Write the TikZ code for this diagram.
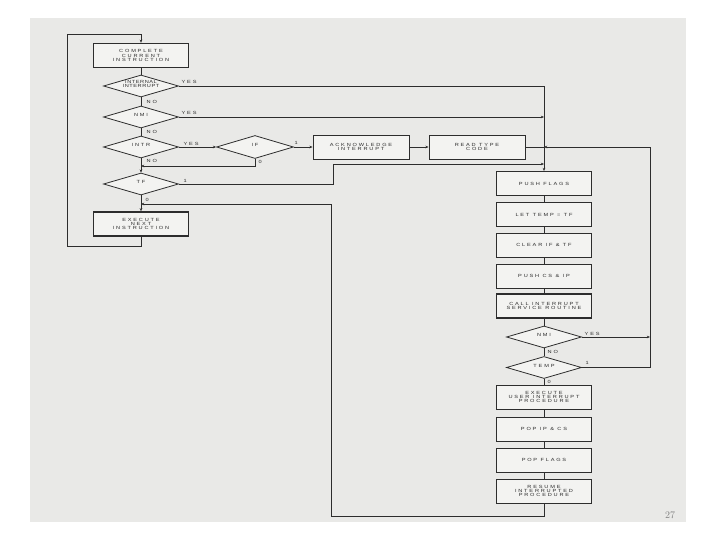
\documentclass[tikz,border=0pt]{standalone}
\usepackage{fontspec}
\newfontfamily\lab[LetterSpace=40,FakeStretch=1.25]{Liberation Sans}
\usetikzlibrary{shapes.geometric,arrows.meta}
\definecolor{scan}{RGB}{233,233,231}
\definecolor{ink}{RGB}{45,45,45}
\definecolor{boxfill}{RGB}{243,243,241}
\newcommand{\dtext}[1]{\smash{\makebox[0pt]{\begin{tabular}{@{}c@{}}#1\end{tabular}}}}
\begin{document}
\begin{tikzpicture}[x=1pt,y=-1pt,
 every node/.style={font=\lab\fontsize{4.5}{4.4}\selectfont, text=ink, align=center},
 pbox/.style={draw=ink, line width=0.9pt, fill=boxfill, minimum width=95pt, minimum height=24pt, inner sep=0pt},
 thickbox/.style={pbox, line width=1.4pt},
 dec/.style={draw=ink, line width=0.8pt, fill=boxfill, diamond, minimum width=75pt, minimum height=22pt, inner sep=0pt},
 flow/.style={draw=ink, line width=0.7pt},
 arr/.style={flow, -{Stealth[length=3.2pt,width=2.6pt]}},
 lbl/.style={font=\lab\fontsize{4.5}{4.5}\selectfont, inner sep=0.5pt, anchor=west}
]
\useasboundingbox (0,0) rectangle (720,540);
\fill[scan] (30,18) rectangle (686,522);

% left column
\node[thickbox] (cci) at (141,55.5) {COMPLETE\\CURRENT\\INSTRUCTION};
\node[dec] (ii) at (141,86) {\dtext{\addfontfeature{LetterSpace=12}INTERNAL\\\addfontfeature{LetterSpace=12}INTERRUPT}};
\node[dec] (nmi) at (141,117) {\dtext{NMI}};
\node[dec] (intr) at (141,147) {\dtext{INTR}};
\node[dec] (tf) at (141,184) {\dtext{TF}};
\node[thickbox] (exe) at (141,224) {EXECUTE\\NEXT\\INSTRUCTION};

% middle row
\node[dec, minimum width=77pt, minimum height=23pt] (if) at (255,147) {\dtext{IF}};
\node[pbox, minimum width=96pt] (ack) at (361,147) {ACKNOWLEDGE\\INTERRUPT};
\node[pbox, minimum width=96pt] (rtc) at (477,147) {READ TYPE\\CODE};

% right column
\node[pbox] (pf) at (544,183.5) {PUSH FLAGS};
\node[pbox] (lt) at (544,214.5) {LET TEMP = TF};
\node[pbox] (clr) at (544,245) {CLEAR IF \& TF};
\node[pbox] (pcs) at (544,276) {PUSH CS \& IP};
\node[thickbox] (call) at (544,306) {CALL INTERRUPT\\SERVICE ROUTINE};
\node[dec] (nmi2) at (544,337) {\dtext{NMI}};
\node[dec] (temp) at (544,367.5) {\dtext{TEMP}};
\node[pbox] (eup) at (544,397) {EXECUTE\\USER INTERRUPT\\PROCEDURE};
\node[pbox] (pip) at (544,429) {POP IP \& CS};
\node[pbox] (pfl) at (544,460) {POP FLAGS};
\node[pbox] (res) at (544,491) {RESUME\\INTERRUPTED\\PROCEDURE};

% helper coordinates
\coordinate (loopB) at (141,246);
\coordinate (loopBL) at (67,246);
\coordinate (loopTL) at (67,34);
\coordinate (loopT) at (141,34);
\coordinate (if0) at (255,166);
\coordinate (t1) at (333,184);
\coordinate (t2) at (333,164);
\coordinate (rc) at (650,147);
\coordinate (rb) at (544,516);
\coordinate (lb) at (331,516);
\coordinate (lt0) at (331,204);

% left column flow
\draw[flow] (cci) -- (ii);
\draw[flow] (ii) -- (nmi);
\draw[flow] (nmi) -- (intr);
\draw[arr] (intr) -- (tf);
\draw[arr] (tf) -- (exe);
\draw[arr] (exe.south) -- (loopB) -- (loopBL) -- (loopTL) -- (loopT) -- (cci.north);

% branches to the right
\draw[arr] (ii.east) -- (ii.east -| pf.north) -- (pf.north);
\draw[arr] (nmi.east) -- (nmi.east -| pf.north);
\draw[arr] (intr.east) -- (if.west);
\draw[arr] (if.east) -- (ack.west);
\draw[arr] (ack.east) -- (rtc.west);
\draw[flow] (rtc.east) -- (rtc.east -| pf.north);
\draw[arr] (if.south) -- (if0) -- (if0 -| tf.north);
\draw[arr] (tf.east) -- (t1) -- (t2) -- (t2 -| pf.north);

% right column flow
\draw[flow] (pf) -- (lt);
\draw[flow] (lt) -- (clr);
\draw[flow] (clr) -- (pcs);
\draw[flow] (pcs) -- (call);
\draw[flow] (call) -- (nmi2);
\draw[flow] (nmi2) -- (temp);
\draw[flow] (temp) -- (eup);
\draw[flow] (eup) -- (pip);
\draw[flow] (pip) -- (pfl);
\draw[flow] (pfl) -- (res);
\draw[arr] (nmi2.east) -- (nmi2.east -| rc);
\draw[arr] (temp.east) -- (temp.east -| rc) -- (rc) -- (rc -| pf.north);
\draw[arr] (res.south) -- (rb) -- (lb) -- (lt0) -- (lt0 -| tf.south);

% labels
\node[lbl] (l1) at (181,82) {YES};
\node[lbl] (l2) at (146,101.5) {NO};
\node[lbl] (l3) at (181,113) {YES};
\node[lbl] (l4) at (146,132) {NO};
\node[lbl] (l5) at (183,144) {YES};
\node[lbl] (l6) at (146,161) {NO};
\node[lbl] (l7) at (294,143) {1};
\node[lbl] (l8) at (258,162) {0};
\node[lbl] (l9) at (183,181) {1};
\node[lbl] (l10) at (145,200) {0};
\node[lbl] (l11) at (584,333.5) {YES};
\node[lbl] (l12) at (547,352) {NO};
\node[lbl] (l13) at (585,363) {1};
\node[lbl] (l14) at (547,381.5) {0};

\node[font=\fontsize{10}{10}\selectfont, text=gray] (pg) at (670,515) {27};
\end{tikzpicture}
\end{document}
